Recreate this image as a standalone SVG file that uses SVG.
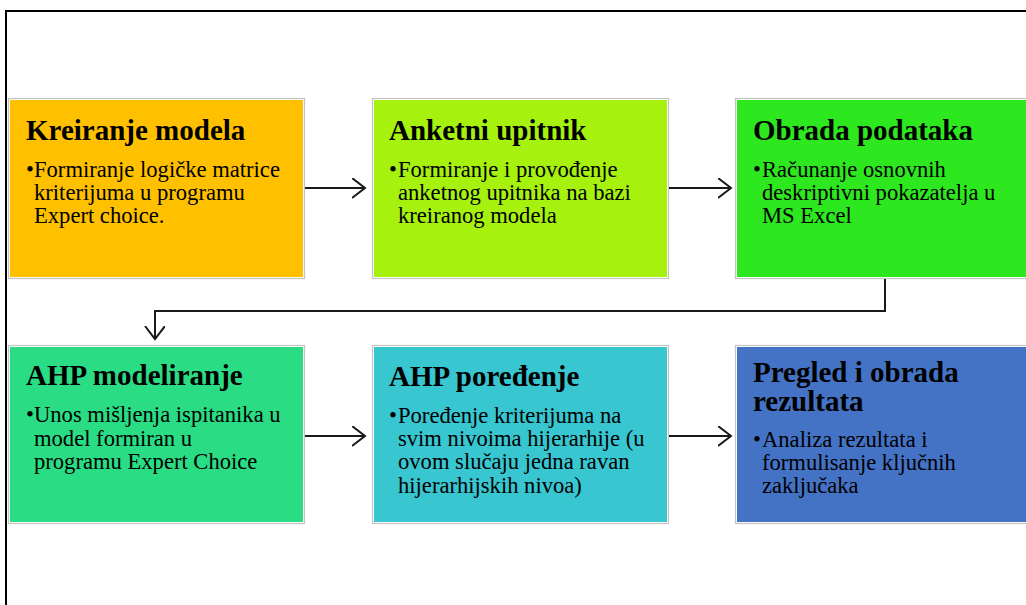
<svg xmlns="http://www.w3.org/2000/svg" width="1026" height="605" viewBox="0 0 1026 605">
<defs>
<style>
.frame{fill:none;stroke:#000;stroke-width:2}
.outer{fill:#fff;stroke:#c4c4c4;stroke-width:1.2}
.t{font-family:"Liberation Serif","Times New Roman",serif;font-weight:bold;font-size:29px;fill:#000}
.b{font-family:"Liberation Serif","Times New Roman",serif;font-size:22.6px;fill:#000}
.conn{fill:none;stroke:#1a1a1a;stroke-width:2}
</style>
<marker id="ah" markerUnits="userSpaceOnUse" markerWidth="16" markerHeight="22" refX="13" refY="10" orient="auto" viewBox="0 0 16 22">
<path d="M0,0 L13,10 L0,20" fill="none" stroke="#1a1a1a" stroke-width="2"/>
</marker>
</defs>
<rect width="1026" height="605" fill="#fff"/>
<path class="frame" d="M6,605 V11 H1026"/>

<g id="n1">
<rect class="outer" x="8.5" y="98.5" width="296" height="180"/>
<rect x="10" y="100" width="293" height="177" fill="#FFC000"/>
<text class="t" x="26" y="140">Kreiranje modela</text>
<text class="b" x="26" y="177">•</text>
<text class="b" x="34" y="177">Formiranje logičke matrice</text>
<text class="b" x="34" y="200">kriterijuma u programu</text>
<text class="b" x="34" y="223">Expert choice.</text>
</g>

<g id="n2">
<rect class="outer" x="372.5" y="98.5" width="296" height="180"/>
<rect x="374" y="100" width="293" height="177" fill="#A6F20E"/>
<text class="t" x="389" y="140">Anketni upitnik</text>
<text class="b" x="389" y="177">•</text>
<text class="b" x="398" y="177">Formiranje i provođenje</text>
<text class="b" x="398" y="200">anketnog upitnika na bazi</text>
<text class="b" x="398" y="223">kreiranog modela</text>
</g>

<g id="n3">
<rect class="outer" x="735.5" y="98.5" width="296" height="180"/>
<rect x="737" y="100" width="293" height="177" fill="#2DE81F"/>
<text class="t" x="753" y="140">Obrada podataka</text>
<text class="b" x="753" y="177">•</text>
<text class="b" x="762" y="177">Računanje osnovnih</text>
<text class="b" x="762" y="200">deskriptivni pokazatelja u</text>
<text class="b" x="762" y="223">MS Excel</text>
</g>

<g id="n4">
<rect class="outer" x="8.5" y="345.5" width="296" height="178"/>
<rect x="10" y="347" width="293" height="175" fill="#2ADD84"/>
<text class="t" x="26" y="385">AHP modeliranje</text>
<text class="b" x="26" y="422">•</text>
<text class="b" x="34" y="422">Unos mišljenja ispitanika u</text>
<text class="b" x="34" y="446">model formiran u</text>
<text class="b" x="34" y="469">programu Expert Choice</text>
</g>

<g id="n5">
<rect class="outer" x="372.5" y="345.5" width="296" height="178"/>
<rect x="374" y="347" width="293" height="175" fill="#38C6D0"/>
<text class="t" x="389" y="386">AHP poređenje</text>
<text class="b" x="389" y="423">•</text>
<text class="b" x="398" y="423">Poređenje kriterijuma na</text>
<text class="b" x="398" y="446">svim nivoima hijerarhije (u</text>
<text class="b" x="398" y="469">ovom slučaju jedna ravan</text>
<text class="b" x="398" y="493">hijerarhijskih nivoa)</text>
</g>

<g id="n6">
<rect class="outer" x="735.5" y="345.5" width="296" height="178"/>
<rect x="737" y="347" width="293" height="175" fill="#4472C4"/>
<text class="t" x="753" y="382">Pregled i obrada</text>
<text class="t" x="753" y="411">rezultata</text>
<text class="b" x="753" y="447">•</text>
<text class="b" x="762" y="447">Analiza rezultata i</text>
<text class="b" x="762" y="470">formulisanje ključnih</text>
<text class="b" x="762" y="493">zaključaka</text>
</g>

<g id="connectors">
<path class="conn" d="M305,188 H365" marker-end="url(#ah)"/>
<path class="conn" d="M669,188 H731" marker-end="url(#ah)"/>
<path class="conn" d="M885,279 V311 H155 V339" marker-end="url(#ah)"/>
<path class="conn" d="M305,436 H365" marker-end="url(#ah)"/>
<path class="conn" d="M669,436 H731" marker-end="url(#ah)"/>
</g>
</svg>
